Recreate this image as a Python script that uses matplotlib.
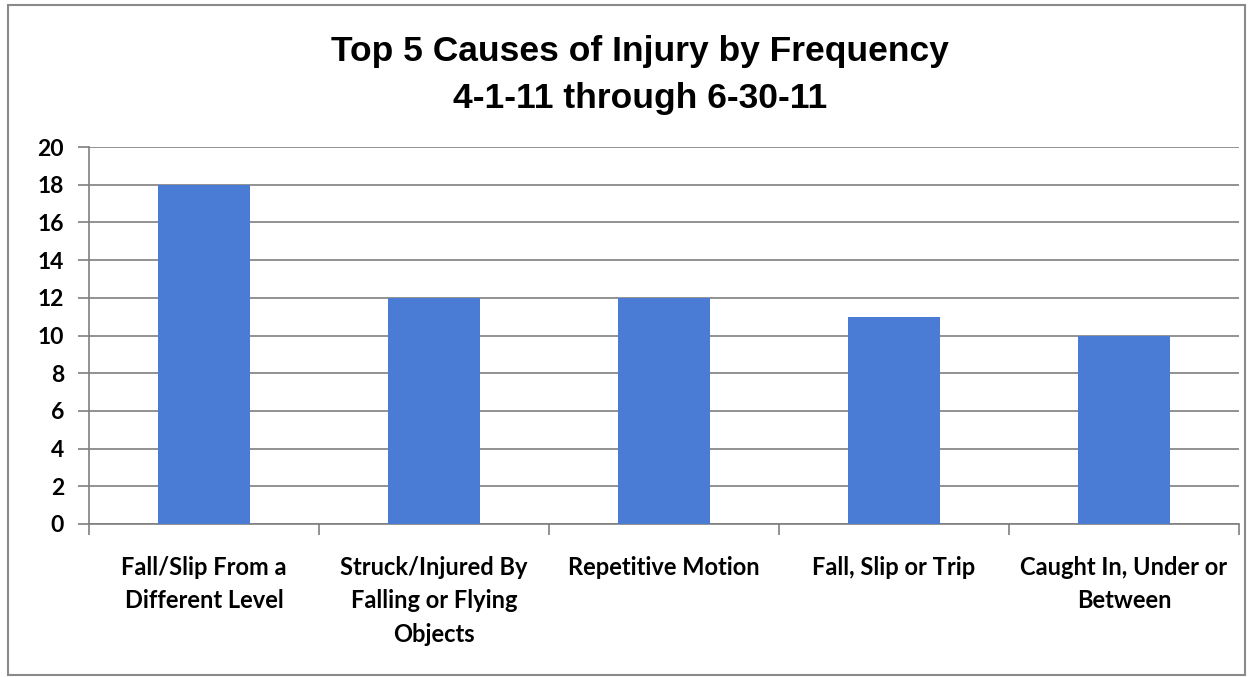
import matplotlib
matplotlib.use("Agg")
import matplotlib.pyplot as plt
from matplotlib.patches import Rectangle

categories = ["Fall/Slip From a\nDifferent Level",
              "Struck/Injured By\nFalling or Flying\nObjects",
              "Repetitive Motion",
              "Fall, Slip or Trip",
              "Caught In, Under or\nBetween"]
values = [18, 12, 12, 11, 10]
yticks = [0, 2, 4, 6, 8, 10, 12, 14, 16, 18, 20]
title = "Top 5 Causes of Injury by Frequency\n4-1-11 through 6-30-11"

fig = plt.figure(figsize=(12.6, 6.77), dpi=100)
fig.patch.set_facecolor("white")
fig.add_artist(Rectangle((8/1260, 2/677), 1237/1260, 670/677, transform=fig.transFigure,
                         fill=False, edgecolor="#8a8a8a", linewidth=1.5))

ax = fig.add_axes([89/1260, 1-524/677, (1239-89)/1260, (524-147)/677])
x = list(range(len(categories)))
ax.bar(x, values, width=0.4, color="#4a7bd5", zorder=3)
ax.set_xlim(-0.5, len(categories) - 0.5)
ax.set_ylim(0, 20)
ax.set_yticks(yticks)
ax.set_yticklabels([str(t) for t in yticks], fontsize=16.5, fontweight="bold", family="Lato")
ax.yaxis.grid(True, color="#7f7f7f", linewidth=1.2, zorder=0)
for s in ["top", "right"]:
    ax.spines[s].set_visible(False)
for s in ["left", "bottom"]:
    ax.spines[s].set_color("#7f7f7f")
    ax.spines[s].set_linewidth(1.2)
ax.tick_params(axis="y", length=8, width=1.2, color="#7f7f7f", pad=10)
ax.set_xticks([i - 0.5 for i in range(len(categories) + 1)], minor=False)
ax.set_xticklabels([])
ax.tick_params(axis="x", which="major", length=8, width=1.2, color="#7f7f7f")
ax.set_xticks(x, minor=True)
ax.set_xticklabels(categories, minor=True, fontsize=17, fontweight="bold", family="Lato",
                   linespacing=1.55, va="top")
ax.tick_params(axis="x", which="minor", length=0, pad=23)

fig.text(0.508, 1-75/677, title, ha="center", va="center", fontsize=25.5, fontweight="bold",
         family="Liberation Sans", linespacing=1.55)

fig.savefig("out.png", dpi=100)
